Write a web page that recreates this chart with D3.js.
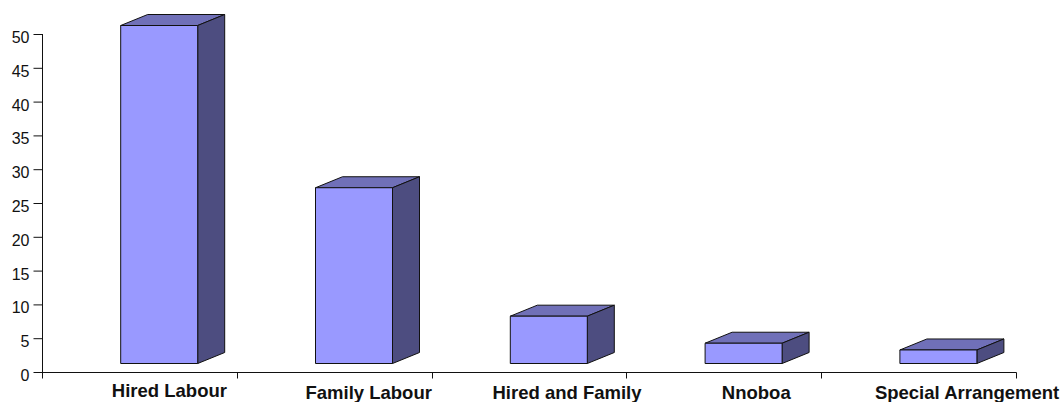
<!DOCTYPE html>
<html><head><meta charset="utf-8">
<script src="https://cdnjs.cloudflare.com/ajax/libs/d3/7.8.5/d3.min.js"></script>
<style>html,body{margin:0;padding:0;background:#fff;overflow:hidden}svg{display:block}</style>
</head><body>
<svg id="c" width="1063" height="402"></svg>
<script>
const categories = ["Hired Labour","Family Labour","Hired and Family","Nnoboa","Special Arrangement"];
const values = [50,26,7,3,2];
const yTicks = [0,5,10,15,20,25,30,35,40,45,50];

const labelShift = [30,34.5,38,32.5,48.5];
const labelY = [397,398.5,398.5,399,399];
const svg = d3.select("#c");
const y = d3.scaleLinear().domain([0,50]).range([372,34]);
const x = d3.scaleBand().domain(categories).range([42,1016]).paddingInner(0).paddingOuter(0);
const ink = "#111";
const floorLift = 8.5, frontShift = 78.7, frontW = 77, dx = 27, dy = 11;

const g = svg.append("g").attr("fill","none");
g.selectAll(".b").data(categories).join("g").each(function(c,i){
  const s = d3.select(this);
  const l = x(c)+frontShift, r = l+frontW;
  const b = y(0)-floorLift, t = y(values[i])-floorLift;
  const p = pts => d3.line()(pts)+"Z";
  s.append("path").attr("d",p([[l,t],[r,t],[r+dx,t-dy],[l+dx,t-dy]])).attr("fill","#7070b8");
  s.append("path").attr("d",p([[r,t],[r+dx,t-dy],[r+dx,b-dy],[r,b]])).attr("fill","#4d4d80");
  s.append("path").attr("d",p([[l,t],[r,t],[r,b],[l,b]])).attr("fill","#9999ff");
  s.selectAll("path").attr("stroke",ink).attr("stroke-width",1).attr("stroke-linejoin","miter");
});

const yAxis = d3.axisLeft(y).tickValues(yTicks).tickSize(9).tickPadding(4);
const ya = svg.append("g").attr("transform","translate(42.5,0)").call(yAxis);
ya.select(".domain").attr("stroke",ink).attr("d","M0,34V372");
ya.selectAll("line").attr("stroke",ink);
ya.selectAll("text").attr("font-family","'Liberation Sans',Arial,sans-serif").attr("font-size",16).attr("fill","#111").attr("dy",null).attr("y",8.5);

const xa = svg.append("g").attr("transform","translate(0,372.5)");
xa.append("line").attr("x1",42).attr("x2",1016.5).attr("stroke",ink);
xa.selectAll(".t").data(d3.range(6)).join("line")
  .attr("x1",i=>Math.round(i<5?x(categories[i]):x.range()[1])+.5)
  .attr("x2",i=>Math.round(i<5?x(categories[i]):x.range()[1])+.5)
  .attr("y1",0).attr("y2",6).attr("stroke",ink);

svg.selectAll(".lab").data(categories).join("text")
  .attr("x",(c,i)=>x(c)+x.bandwidth()/2+labelShift[i])
  .attr("y",(c,i)=>labelY[i])
  .attr("text-anchor","middle")
  .attr("font-family","'Liberation Sans',Arial,sans-serif")
  .attr("font-weight","bold").attr("font-size",18.5).attr("fill","#111")
  .text(c=>c);
</script>
</body></html>
